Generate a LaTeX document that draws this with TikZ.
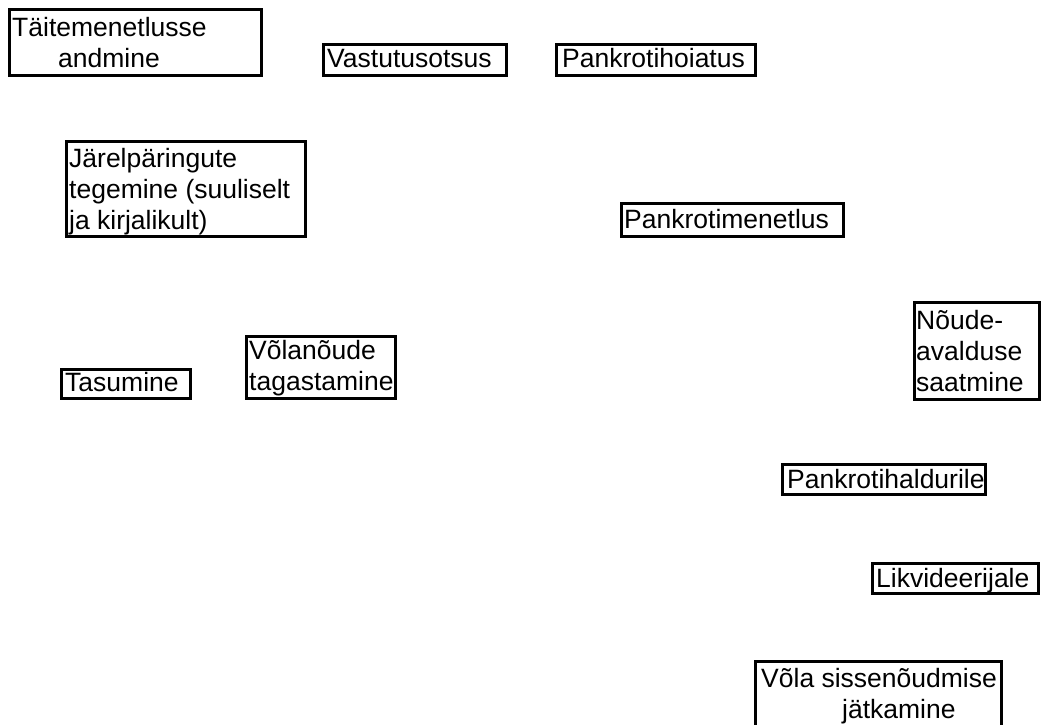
\documentclass[tikz,border=0pt]{standalone}
\usepackage{fontspec}
\setmainfont{Liberation Sans}
\begin{document}
\begin{tikzpicture}[x=1pt,y=-1pt,
  frame/.style={draw=black, line width=3pt, anchor=north west, inner sep=0pt, outer sep=0pt},
  txt/.style={anchor=base west, inner sep=0pt, align=left, font=\fontsize{26.5}{31}\selectfont}]
\useasboundingbox (0,0) rectangle (1042,724);
% frames
\node[frame, minimum width=252, minimum height=66] (f1) at (9.5,9.5) {};
\node[frame, minimum width=183, minimum height=31] (f2) at (323.5,44.5) {};
\node[frame, minimum width=199, minimum height=31] (f3) at (556.5,44.5) {};
\node[frame, minimum width=239, minimum height=95] (f4) at (66.5,141.5) {};
\node[frame, minimum width=222, minimum height=33] (f5) at (621.5,203.5) {};
\node[frame, minimum width=129, minimum height=29] (f6) at (61.5,369.5) {};
\node[frame, minimum width=149, minimum height=62] (f7) at (246.5,336.5) {};
\node[frame, minimum width=125, minimum height=97] (f8) at (914.5,302.5) {};
\node[frame, minimum width=203, minimum height=30] (f9) at (782.5,464.5) {};
\node[frame, minimum width=166, minimum height=30] (f10) at (872.5,563.5) {};
\node[frame, minimum width=246, minimum height=80] (f11) at (755.5,661.5) {};
% texts (anchor at baseline of last line)
\node[txt] (t1) at (12,67) {Täitemenetlusse\\\hspace*{46pt}andmine};
\node[txt] (t2) at (327,67) {Vastutusotsus};
\node[txt] (t3) at (562,67) {Pankrotihoiatus};
\node[txt] (t4) at (69,229) {Järelpäringute\\tegemine (suuliselt\\ja kirjalikult)};
\node[txt] (t5) at (624,228) {Pankrotimenetlus};
\node[txt] (t6) at (65,391) {Tasumine};
\node[txt] (t7) at (249,390) {Võlanõude\\tagastamine};
\node[txt] (t8) at (916,391) {Nõude-\\avalduse\\saatmine};
\node[txt] (t9) at (787,488) {Pankrotihaldurile};
\node[txt] (t10) at (876,587) {Likvideerijale};
\node[txt] (t11) at (761,718) {Võla sissenõudmise\\\hspace*{81pt}jätkamine};
\end{tikzpicture}
\end{document}
